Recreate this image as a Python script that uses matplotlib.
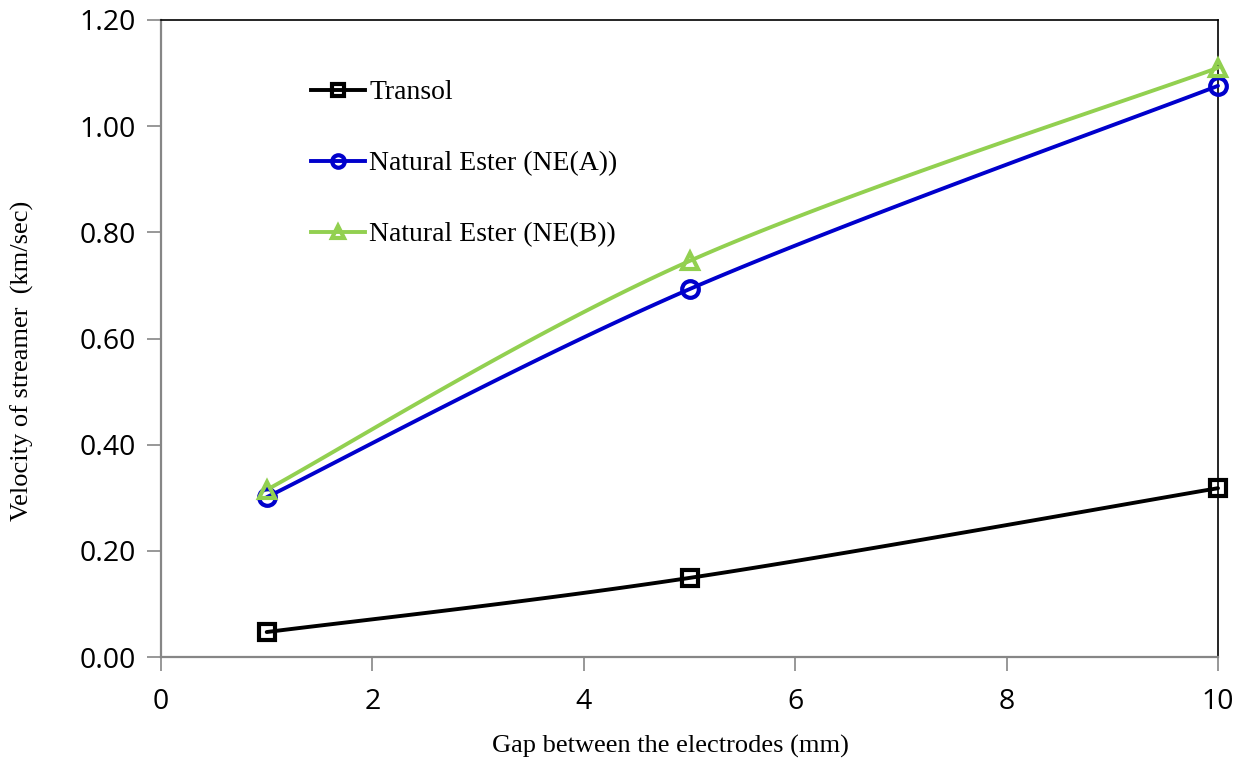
import numpy as np
import matplotlib
matplotlib.use("Agg")
import matplotlib.pyplot as plt

# Streamer velocity versus electrode gap
gap_mm = [1, 5, 10]
transol = [0.047, 0.149, 0.318]
ne_a = [0.301, 0.693, 1.076]
ne_b = [0.315, 0.746, 1.110]

series_labels = ["Transol", "Natural Ester (NE(A))", "Natural Ester (NE(B))"]
series_colors = ["#000000", "#0000CC", "#92D050"]
series_markers = ["s", "o", "^"]

x_ticks = [0, 2, 4, 6, 8, 10]
y_ticks = [0.0, 0.2, 0.4, 0.6, 0.8, 1.0, 1.2]


def smooth(xs, ys, n=60):
    """Catmull-Rom style cubic Bezier through the points (spreadsheet 'smoothed line')."""
    pts = np.column_stack([xs, ys]).astype(float)
    ext = np.vstack([pts[0], pts, pts[-1]])
    out = []
    t = np.linspace(0, 1, n)[:, None]
    for i in range(1, len(ext) - 2):
        p0, p1, p2, p3 = ext[i - 1], ext[i], ext[i + 1], ext[i + 2]
        c1 = p1 + (p2 - p0) / 6.0
        c2 = p2 - (p3 - p1) / 6.0
        seg = ((1 - t) ** 3) * p1 + 3 * ((1 - t) ** 2) * t * c1 + 3 * (1 - t) * t ** 2 * c2 + t ** 3 * p2
        out.append(seg if i == 1 else seg[1:])
    seg = np.vstack(out)
    return seg[:, 0], seg[:, 1]


W, H = 1246, 763
fig = plt.figure(figsize=(W / 100, H / 100), dpi=100)
ax = fig.add_axes([161 / W, 1 - 657 / H, (1218 - 161) / W, (657 - 20) / H])

tick_font = "Open Sans"
serif = "Liberation Serif"

handles = []
for ys, lab, col, mk in zip([transol, ne_a, ne_b], series_labels, series_colors, series_markers):
    sx, sy = smooth(gap_mm, ys)
    ax.plot(sx, sy, color=col, lw=2.8, solid_capstyle="round", clip_on=False, zorder=3)
    ax.plot(gap_mm, ys, ls="none", marker=mk, markersize=12, markeredgewidth=3.0,
            markerfacecolor="none", markeredgecolor=col, clip_on=False, zorder=4)
    h, = ax.plot([], [], color=col, lw=2.8, marker=mk, markersize=9, markeredgewidth=3.0,
                 markerfacecolor="none", markeredgecolor=col)
    handles.append(h)

ax.set_xlim(0, 10)
ax.set_ylim(0, 1.2)
ax.set_xticks(x_ticks)
ax.set_yticks(y_ticks)
ax.set_xticklabels([str(v) for v in x_ticks], fontfamily=tick_font, fontsize=20.5)
ax.set_yticklabels([f"{v:.2f}" for v in y_ticks], fontfamily=tick_font, fontsize=20.5)
ax.tick_params(axis="both", direction="out", length=10, width=1.2, color="#868686")
ax.tick_params(axis="x", pad=12)
ax.tick_params(axis="y", pad=8)

for side in ("left", "bottom"):
    ax.spines[side].set_color("#868686")
    ax.spines[side].set_linewidth(1.6)
for side in ("top", "right"):
    ax.spines[side].set_color("#000000")
    ax.spines[side].set_linewidth(1.2)

leg = ax.legend(handles, series_labels, loc="upper left",
                bbox_to_anchor=((311 - 161) / 1057, (657 - 80) / 637),
                frameon=False, borderpad=0, borderaxespad=0,
                prop={"family": serif, "size": 20},
                handlelength=1.95, handletextpad=0.15, labelspacing=1.64)

fig.text(670 / W, 1 - 746 / H, "Gap between the electrodes (mm)", ha="center", va="center",
         fontfamily=serif, fontsize=19)
fig.text(22 / W, 1 - 361 / H, "Velocity of streamer  (km/sec)", ha="center", va="center",
         rotation=90, fontfamily=serif, fontsize=19)

fig.savefig("out.png", dpi=100)
